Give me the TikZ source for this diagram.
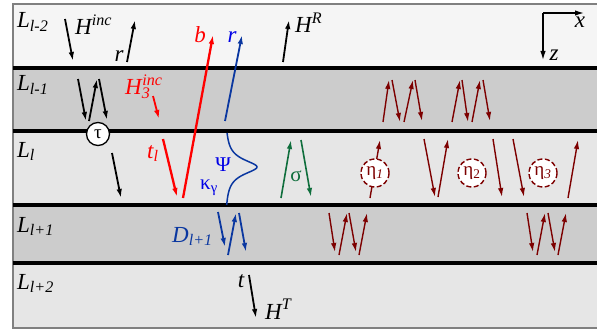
\documentclass[tikz,border=0pt]{standalone}
\usepackage{fontspec}
\setmainfont{Liberation Serif}
\usetikzlibrary{arrows.meta}
\definecolor{wred}{RGB}{255,0,0}
\definecolor{wblue}{RGB}{10,55,160}
\definecolor{psiblue}{RGB}{0,0,230}
\definecolor{wgreen}{RGB}{15,110,60}
\definecolor{maroon}{RGB}{125,0,0}
\definecolor{pale}{RGB}{245,245,245}
\definecolor{light}{RGB}{230,230,230}
\definecolor{dark}{RGB}{204,204,204}

\begin{document}
\begin{tikzpicture}[
    x=1pt, y=-1pt,
    >={Latex[length=9pt,width=5.5pt]},
    lab/.style={inner sep=0, font=\fontsize{23}{26}\selectfont\itshape},
    greek/.style={inner sep=0, font=\fontsize{21}{24}\selectfont},
    ray/.style={line width=1.8pt},
    mode/.style={line width=1.4pt, draw=maroon},
    interface/.style={line width=3.5pt},
    eta/.style={circle, draw=maroon, dash pattern=on 5pt off 2.5pt, line width=1.4pt, fill=white, minimum size=28pt, inner sep=0, text=maroon, font=\fontsize{19}{21}\selectfont}
]
    \useasboundingbox (0,0) rectangle (597,329);

    \fill[pale] (13,4) rectangle (600,68);
    \fill[dark] (13,68) rectangle (600,131);
    \fill[light] (13,131) rectangle (600,205);
    \fill[dark] (13,205) rectangle (600,263);
    \fill[light] (13,263) rectangle (600,328);
    \draw[gray, line width=1.5pt] (600,4) -- (13,4) -- (13,328) -- (600,328);
    \draw[interface] (13,68) -- (600,68);
    \draw[interface] (13,131) -- (600,131);
    \draw[interface] (13,205) -- (600,205);
    \draw[interface] (13,263) -- (600,263);

    \node[lab, anchor=base west] (Lm2) at (17,28) {L\textsubscript{l-2}};
    \node[lab, anchor=base west] (Lm1) at (17,91) {L\textsubscript{l-1}};
    \node[lab, anchor=base west] (L0) at (17,157) {L\textsubscript{l}};
    \node[lab, anchor=base west] (Lp1) at (17,232) {L\textsubscript{l+1}};
    \node[lab, anchor=base west] (Lp2) at (17,289) {L\textsubscript{l+2}};

    \coordinate (origin) at (543,13);
    \coordinate (xend) at (584,13);
    \coordinate (zend) at (543,60);
    \draw[->, line width=1.4pt] (origin) -- (xend);
    \draw[->, line width=1.4pt] (origin) -- (zend);
    \node[lab, anchor=base] (xlab) at (580,28) {x};
    \node[lab, anchor=base] (zlab) at (554,60) {z};

    \draw[->, ray] (65,19) -- (73,61);
    \draw[->, ray] (127,62) -- (135,20);
    \draw[->, ray] (283,62) -- (289,20);
    \node[lab, anchor=base west] (Hinc) at (75,35) {H\textsuperscript{inc}};
    \node[lab, anchor=base] (rtop) at (119,62) {r};
    \node[lab, anchor=base west] (HR) at (295,33) {H\textsuperscript{R}};

    \draw[->, ray] (78,79) -- (86,121);
    \draw[->, ray] (89,121) -- (97,79);
    \draw[->, ray] (99,79) -- (107,120);
    \draw[->, ray] (112,153) -- (121,198);
    \node[circle, draw, line width=1.3pt, fill=white, minimum size=23pt, inner sep=0, font=\fontsize{19}{21}\selectfont] (tau) at (98,134) {τ};

    \draw[->, ray, wred] (153,96) -- (159,119);
    \node[lab, anchor=base west, text=wred] (H3inc) at (125,95) {H\textsubscript{\rlap{3}}\textsuperscript{inc}};
    \draw[->, line width=2.3pt, wred] (163,139) -- (177,197);
    \node[lab, anchor=base west, text=wred] (tl) at (147,158) {t\textsubscript{l}};
    \draw[->, line width=2.3pt, wred] (183,198) -- (213,35);
    \node[lab, anchor=base, text=wred] (blab) at (200,43) {b};

    \draw[->, ray, wblue] (225,121) -- (242,35);
    \node[lab, anchor=base, text=psiblue] (rblue) at (232,43) {r};
    \draw[wblue, line width=1.5pt] plot[domain=133:205, samples=80, smooth] ({225+32/(1+((\x-167)/9)^2)}, {\x});
    \node[greek, text=psiblue] (psi) at (223,165) {Ψ};
    \node[greek, text=psiblue] (kappa) at (209,188) {κ\textsubscript{γ}};

    \draw[->, ray, wblue] (218,212) -- (225,247);
    \draw[->, ray, wblue] (228,255) -- (236,213);
    \draw[->, ray, wblue] (239,213) -- (246,252);
    \node[lab, anchor=base west, text=wblue] (Dl) at (172,242) {D\textsubscript{l+1}};

    \draw[->, line width=1.6pt, wgreen] (281,198) -- (291,140);
    \draw[->, line width=1.6pt, wgreen] (301,140) -- (311,197);
    \node[greek, text=wgreen] (sigma) at (296,176) {σ};

    \draw[->, mode] (383,122) -- (389,80);
    \draw[->, mode] (392,80) -- (400,122);
    \draw[->, mode] (404,122) -- (413,80);
    \draw[->, mode] (415,80) -- (422,121);
    \draw[->, mode] (452,122) -- (460,80);
    \draw[->, mode] (462,80) -- (468,122);
    \draw[->, mode] (472,122) -- (480,80);
    \draw[->, mode] (483,80) -- (490,121);

    \draw[->, mode] (370,198) -- (380,140);
    \draw[->, mode] (424,139) -- (435,197);
    \draw[->, mode] (438,197) -- (448,139);
    \draw[->, mode] (493,139) -- (502,197);
    \draw[->, mode] (513,139) -- (524,197);
    \draw[->, mode] (568,198) -- (578,140);
    \node[eta] (eta1) at (375,173) {η\textsubscript{\itshape 1}};
    \node[eta] (eta2) at (472,173) {η\textsubscript{2}};
    \node[eta] (eta3) at (543,173) {η\textsubscript{\itshape 3}};

    \draw[->, mode] (329,213) -- (335,252);
    \draw[->, mode] (339,255) -- (347,213);
    \draw[->, mode] (349,213) -- (356,252);
    \draw[->, mode] (359,255) -- (367,213);
    \draw[->, mode] (527,213) -- (533,252);
    \draw[->, mode] (537,255) -- (545,213);
    \draw[->, mode] (548,213) -- (555,252);
    \draw[->, mode] (558,255) -- (566,213);

    \draw[->, ray] (249,275) -- (256,318);
    \node[lab, anchor=base] (tbot) at (241,287) {t};
    \node[lab, anchor=base west] (HT) at (265,319) {H\textsuperscript{T}};
\end{tikzpicture}
\end{document}
